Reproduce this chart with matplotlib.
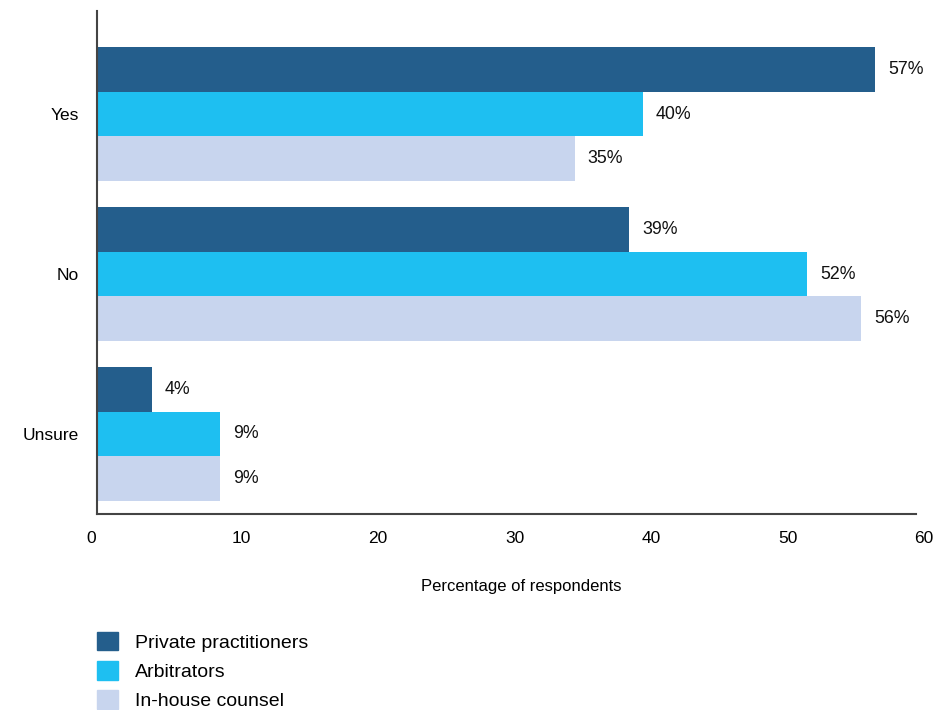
import matplotlib
matplotlib.use('Agg')
import matplotlib.pyplot as plt
import matplotlib.transforms as mtransforms
from matplotlib.patches import Patch
import numpy as np

plt.rcParams['font.family'] = ['Liberation Sans', 'DejaVu Sans']

categories = ['Yes', 'No', 'Unsure']
series_names = ['Private practitioners', 'Arbitrators', 'In-house counsel']
private = [57, 39, 4]
arbitrators = [40, 52, 9]
inhouse = [35, 56, 9]
x_ticks = [0, 10, 20, 30, 40, 50, 60]

COLORS = ['#245e8c', '#1ebff1', '#c8d5ee']

fig = plt.figure(figsize=(9.34, 7.1), dpi=100)
ax = fig.add_axes([0.1039, 0.2761, 0.8768, 0.7084])

y = np.arange(len(categories))
h = 0.28
for k, (vals, name) in enumerate(zip([private, arbitrators, inhouse], series_names)):
    pos = y + (k - 1) * h
    ax.barh(pos, vals, height=h, color=COLORS[k], label=name)
    for p, v in zip(pos, vals):
        ax.annotate(f'{v}%', (v, p), xytext=(9.4, 0), textcoords='offset points',
                    ha='left', va='center', fontsize=12.8, color='#111111')

ax.set_xlim(0, 60)
ax.set_ylim(2.5, -0.644)
ax.set_yticks(y)
ax.set_yticklabels(categories, fontsize=12.5)
ax.set_xticks(x_ticks)
ax.set_xticklabels([str(t) for t in x_ticks], fontsize=12.5)
ax.tick_params(axis='y', length=0, pad=13)
ax.tick_params(axis='x', length=0, pad=12)

# tick labels in the reference are nudged off the tick positions
for t, lab in zip(x_ticks, ax.get_xticklabels()):
    dx = (-6 if t == 0 else 8) / fig.dpi
    lab.set_transform(lab.get_transform() + mtransforms.ScaledTranslation(dx, 0, fig.dpi_scale_trans))

for s in ['top', 'right']:
    ax.spines[s].set_visible(False)
for s in ['left', 'bottom']:
    ax.spines[s].set_color('#444444')
    ax.spines[s].set_linewidth(1.5)

ax.set_xlabel('Percentage of respondents', fontsize=12)
ax.xaxis.set_label_coords(0.518, -0.129)

handles = [Patch(color=c) for c in COLORS]
fig.legend(handles, series_names, loc='upper left', bbox_to_anchor=(97 / 934, 1 - 632 / 710),
           frameon=False, fontsize=14, handlelength=1.08, handleheight=1.08,
           handletextpad=0.88, labelspacing=0.48, borderpad=0, borderaxespad=0)

fig.savefig('out.png', dpi=100)
